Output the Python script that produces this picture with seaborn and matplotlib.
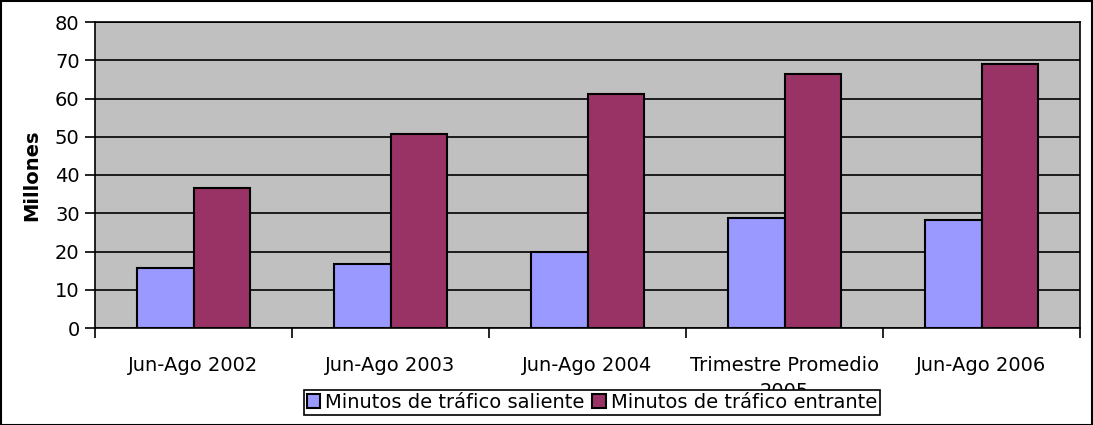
import matplotlib
matplotlib.use("Agg")
import matplotlib.pyplot as plt
import seaborn as sns
import pandas as pd
import numpy as np
from matplotlib.ticker import FixedLocator
from matplotlib.patches import Rectangle

categories = ["Jun-Ago 2002", "Jun-Ago 2003", "Jun-Ago 2004", "Trimestre Promedio\n2005", "Jun-Ago 2006"]
saliente = [15.7, 16.7, 19.9, 28.8, 28.2]
entrante = [36.6, 50.7, 61.2, 66.4, 69.0]
series_names = ["Minutos de tráfico saliente", "Minutos de tráfico entrante"]
colors = ["#9999FF", "#993366"]

df = pd.DataFrame({
    "cat": categories * 2,
    "serie": [series_names[0]] * 5 + [series_names[1]] * 5,
    "val": saliente + entrante,
})

sns.set_theme(style="white")
plt.rcParams["font.family"] = ["DejaVu Sans"]
plt.rcParams["text.color"] = "black"
plt.rcParams["xtick.color"] = "black"
plt.rcParams["ytick.color"] = "black"
plt.rcParams["axes.labelcolor"] = "black"

fig = plt.figure(figsize=(10.93, 4.25), dpi=100)
ax = fig.add_axes([95/1093, 1 - 328/425, (1080-95)/1093, (328-22)/425])
ax.set_facecolor("#C0C0C0")

sns.barplot(data=df, x="cat", y="val", hue="serie", palette=colors, width=0.57,
            saturation=1, edgecolor="black", linewidth=1.5, ax=ax, legend=False, zorder=3)

ax.set_ylim(0, 80)
ax.set_xlim(-0.5, 4.5)
ax.set_yticks(np.arange(0, 81, 10))
ax.yaxis.grid(True, color="black", linewidth=1.2, zorder=1)
ax.set_axisbelow(True)
ax.tick_params(axis="y", which="major", length=7, width=1.2, left=True, labelsize=14, pad=4)
ax.tick_params(axis="x", which="major", length=0, labelsize=14, pad=20)
ax.xaxis.set_minor_locator(FixedLocator(np.arange(-0.5, 5, 1.0)))
ax.tick_params(axis="x", which="minor", length=7, width=1.2, bottom=True, direction="out")
ax.set_xlabel("")
ax.set_ylabel("Millones", fontsize=14, fontweight="bold", labelpad=10)
for s in ax.spines.values():
    s.set_color("black")
    s.set_linewidth(1.2)
for lab in ax.get_xticklabels():
    lab.set_verticalalignment("top")
    lab.set_linespacing(1.5)

handles = [Rectangle((0, 0), 1, 1, facecolor=c, edgecolor="black", linewidth=1.5) for c in colors]
leg = fig.legend(handles, series_names, loc="center", bbox_to_anchor=(592/1093, 1 - 402.5/425),
                 ncol=2, frameon=True, fontsize=14, handlelength=0.7, handleheight=0.7,
                 handletextpad=0.25, columnspacing=0.4, borderpad=0.15, borderaxespad=0,
                 fancybox=False)
leg.get_frame().set_edgecolor("black")
leg.get_frame().set_linewidth(1.2)
leg.get_frame().set_facecolor("white")
leg.get_frame().set_alpha(1)

fig.patches.append(Rectangle((0.001, 0.001), 0.998, 0.997, transform=fig.transFigure,
                             fill=False, edgecolor="black", linewidth=1.5))

fig.savefig("out.png", dpi=100, facecolor="white")
